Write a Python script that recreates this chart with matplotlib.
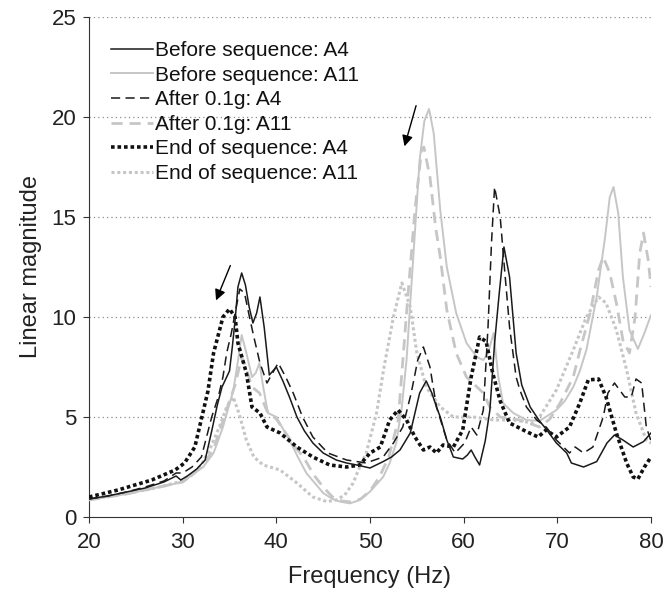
import matplotlib
matplotlib.use("Agg")
import matplotlib.pyplot as plt

plt.rcParams['font.family'] = ['Liberation Sans', 'DejaVu Sans']

# ---- Data ----
BA4_f = [20, 22, 24, 26, 28, 29.3, 29.8, 30.5, 31.5, 32.4, 33.1, 33.7, 34.2, 34.7, 35.0, 35.3, 35.6, 35.9, 36.3, 36.7,
         37.1, 37.5, 37.9, 38.25, 38.7, 39.25, 40.0, 40.7, 41.4, 42.2, 43.0, 43.9, 45.0, 46.4, 47.5, 48.6, 50.0, 51.4,
         52.3, 53.2, 54.3, 55.3, 56.0, 56.6, 57.1, 57.5, 58.2, 58.9, 59.9, 60.4, 60.8, 61.2, 61.7, 62.3, 62.8, 63.3,
         63.8, 64.3, 64.9, 65.6, 66.2, 67.1, 68.1, 68.8, 69.9, 71.0, 71.5, 72.8, 74.2, 75.3, 76.1, 77.0, 78.1, 79.2, 80.0]
BA4_v = [0.9, 1.05, 1.25, 1.45, 1.75, 2.05, 1.85, 2.05, 2.4, 2.85, 4.3, 5.6, 6.5, 7.0, 7.3, 8.5, 9.85, 11.5, 12.2, 11.6,
         10.5, 9.7, 10.2, 11.0, 9.5, 7.1, 7.5, 6.8, 6.0, 5.0, 4.3, 3.7, 3.2, 2.85, 2.7, 2.6, 2.45, 2.77,
         3.0, 3.35, 4.2, 6.2, 6.8, 6.2, 5.5, 5.0, 3.85, 3.0, 2.9, 3.1, 3.35, 3.0, 2.6, 3.8, 5.35, 8.7,
         11.2, 13.5, 12.0, 8.2, 6.6, 5.5, 4.8, 4.4, 3.7, 3.2, 2.7, 2.5, 2.77, 3.7, 4.1, 3.85, 3.5, 3.77, 4.2]

BA11_f = [20, 22, 24, 26, 28, 30, 31, 32.2, 33.3, 34.3, 34.9, 35.4, 35.9, 36.3, 36.8, 37.4, 37.8, 38.2, 38.6, 39.1,
          40.0, 40.6, 41.4, 42.3, 43.2, 44.1, 45.0, 46.0, 46.8, 47.85, 48.9, 50.0, 51.4, 52.1, 52.8, 53.4, 53.9, 54.6,
          55.3, 55.8, 56.3, 56.8, 57.5, 58.2, 59.2, 60.3, 61.4, 62.1, 62.6, 63.2, 63.7, 64.2, 65.3, 66.7, 68.1, 69.9,
          70.8, 71.7, 72.4, 73.1, 74.2, 75.1, 75.6, 76.0, 76.5, 77.0, 77.7, 78.6, 79.3, 80.0]
BA11_v = [0.85, 1.0, 1.15, 1.35, 1.55, 1.75, 2.1, 2.5, 3.2, 4.5, 5.5, 6.3, 7.8, 9.1, 8.2, 7.0, 7.2, 7.7, 6.5, 5.2,
          5.0, 4.5, 3.85, 3.0, 2.2, 1.7, 1.2, 0.9, 0.77, 0.68, 0.85, 1.27, 2.0, 2.7, 3.7, 5.5, 7.85, 12.85,
          17.85, 19.8, 20.4, 19.2, 15.35, 12.5, 10.2, 8.7, 8.0, 7.85, 8.2, 9.2, 7.0, 5.7, 5.2, 4.85, 4.8, 5.35,
          5.8, 6.5, 7.3, 8.35, 11.0, 14.0, 16.0, 16.5, 15.2, 12.0, 9.35, 8.4, 9.2, 10.1]

AA4_f = [20, 22, 24, 26, 28, 29.3, 30, 31, 32, 33.1, 33.8, 34.3, 34.7, 35.2, 35.6, 36.1, 36.6, 37.2, 37.7, 38.25,
         39.0, 39.6, 40.2, 41.0, 41.8, 42.8, 43.9, 45.5, 47.5, 49.6, 50.0, 51.4, 52.5, 53.5, 54.4, 55.1, 55.7, 56.4,
         57.1, 58.2, 59.1, 60.1, 60.8, 61.4, 62.1, 62.6, 62.97, 63.3, 63.9, 64.4, 64.9, 65.6, 66.0, 66.7, 67.8, 68.8,
         69.9, 71.3, 71.9, 72.8, 73.8, 74.9, 75.4, 76.1, 77.2, 77.9, 78.4, 79.0, 79.5, 80.0]
AA4_v = [0.9, 1.05, 1.25, 1.5, 1.8, 2.2, 2.2, 2.5, 3.0, 5.0, 6.0, 7.0, 8.2, 9.2, 10.2, 11.4, 11.2, 9.85, 8.8, 7.7,
         6.7, 7.2, 7.7, 7.0, 6.2, 5.0, 4.0, 3.2, 2.85, 2.7, 2.77, 3.0, 3.7, 4.5, 6.2, 7.85, 8.5, 7.5,
         5.5, 3.85, 3.2, 3.7, 4.5, 4.1, 5.35, 9.5, 13.7, 16.5, 15.0, 12.2, 9.5, 7.0, 6.35, 5.5, 4.85, 4.5,
         3.85, 3.2, 3.5, 3.2, 3.5, 5.0, 6.2, 6.7, 6.0, 6.0, 6.9, 6.7, 4.5, 3.8]

AA11_f = [20, 22, 24, 26, 28, 30, 31, 32.2, 33.3, 34.3, 35.0, 35.6, 36.3, 36.8, 37.4, 38.2, 39.0, 40.0, 41.0, 42.0,
          42.9, 44.0, 45.0, 46.0, 47.0, 48.0, 49.0, 50.0, 51.0, 52.0, 53.0, 53.9, 54.8, 55.5, 55.75, 56.4, 57.0, 57.5,
          58.2, 59.2, 60.3, 61.2, 62.1, 62.8, 63.9, 66.0, 68.1, 69.2, 70.3, 71.7, 72.4, 73.5, 74.4, 74.9, 75.6, 76.3,
          77.0, 77.7, 78.3, 78.8, 79.2, 79.7, 80.0]
AA11_v = [0.85, 1.0, 1.15, 1.35, 1.55, 1.75, 2.1, 2.6, 3.4, 4.8, 5.8, 6.6, 8.0, 7.4, 6.5, 6.2, 5.3, 4.9, 4.2, 3.5,
          3.0, 2.1, 1.5, 1.0, 0.8, 0.75, 0.9, 1.3, 2.0, 3.0, 4.8, 10.2, 15.35, 18.35, 18.5, 17.0, 14.5, 13.0,
          10.35, 8.2, 7.0, 6.6, 6.2, 5.5, 5.0, 4.85, 4.5, 4.9, 5.7, 7.0, 8.3, 10.2, 12.35, 13.0, 12.2, 10.7,
          8.85, 8.2, 10.0, 13.2, 14.2, 12.85, 11.5]

EA4_f = [20, 23.1, 26.7, 29.2, 30.2, 31.3, 32.0, 32.7, 33.3, 34.3, 35.0, 35.6, 35.9, 36.8, 37.4, 38.25, 39.0, 40.4,
         42.2, 43.9, 45.7, 47.5, 48.9, 50.0, 51.1, 52.1, 53.0, 53.9, 54.8, 55.7, 56.4, 57.1, 57.8, 58.9, 59.9, 60.8,
         61.7, 62.4, 63.1, 63.9, 64.9, 66.7, 67.95, 68.8, 69.9, 71.3, 72.4, 73.3, 74.4, 75.2, 76.3, 77.4, 78.1, 78.6,
         79.3, 80.0]
EA4_v = [1.0, 1.35, 1.85, 2.35, 2.7, 3.5, 4.9, 6.3, 8.2, 10.0, 10.4, 10.0, 8.7, 7.2, 5.5, 5.2, 4.5, 4.2,
         3.5, 3.0, 2.6, 2.5, 2.6, 3.2, 3.5, 4.85, 5.35, 4.85, 4.0, 3.35, 3.5, 3.2, 3.6, 3.5, 4.35, 7.0,
         9.0, 8.77, 7.2, 5.8, 4.7, 4.27, 4.0, 4.35, 4.0, 4.5, 5.7, 6.85, 6.9, 6.0, 4.2, 2.7, 2.0, 1.9,
         2.5, 3.0]

EA11_f = [20, 23, 26, 28, 30, 31, 32, 33, 34, 34.7, 35.4, 36.0, 36.8, 37.6, 38.6, 40.4, 42.2, 43.9, 45.4, 46.4,
          47.3, 48.2, 48.9, 49.6, 50.7, 51.5, 52.5, 53.4, 54.3, 55.0, 56.0, 57.5, 58.9, 61.0, 63.2, 65.3, 67.4, 68.1,
          69.9, 71.7, 73.1, 74.4, 75.2, 76.3, 77.4, 78.4, 79.5, 80.0]
EA11_v = [0.9, 1.1, 1.35, 1.55, 1.8, 2.1, 2.6, 3.5, 4.6, 5.5, 6.0, 5.2, 3.85, 3.0, 2.6, 2.35, 1.7, 1.0, 0.77, 0.85,
          1.1, 1.7, 2.5, 3.2, 5.2, 7.5, 10.0, 11.7, 10.5, 8.2, 6.5, 5.5, 5.0, 5.0, 4.85, 4.85, 4.7, 5.0,
          6.35, 8.35, 10.0, 11.0, 10.7, 9.35, 7.35, 5.2, 3.85, 3.7]

labels = ["Before sequence: A4", "Before sequence: A11", "After 0.1g: A4",
          "After 0.1g: A11", "End of sequence: A4", "End of sequence: A11"]

x_ticks = [20, 30, 40, 50, 60, 70, 80]
y_ticks = [0, 5, 10, 15, 20, 25]

# ---- Plot ----
fig = plt.figure(figsize=(6.64, 5.97), dpi=100)
ax = fig.add_axes([89 / 664, 80 / 597, (651 - 89) / 664, 500 / 597])

BLK = '#1a1a1a'
GRY = '#c6c6c6'

ax.plot(BA4_f, BA4_v, color=BLK, lw=1.1, label=labels[0], zorder=5)
ax.plot(BA11_f, BA11_v, color=GRY, lw=1.4, label=labels[1], zorder=3)
ax.plot(AA4_f, AA4_v, color=BLK, lw=1.1, dashes=(6, 3.5), label=labels[2], zorder=5)
ax.plot(AA11_f, AA11_v, color=GRY, lw=2.0, dashes=(4, 2.5), label=labels[3], zorder=3)
ax.plot(EA4_f, EA4_v, color='#111111', lw=2.6, dashes=(1, 0.8), label=labels[4], zorder=4)
ax.plot(EA11_f, EA11_v, color=GRY, lw=2.2, dashes=(1, 0.9), label=labels[5], zorder=2)

# arrows
ax.annotate("", xy=(33.45, 10.7), xytext=(35.2, 12.7),
            arrowprops=dict(arrowstyle="-|>", color='black', lw=1.0, mutation_scale=16))
ax.annotate("", xy=(53.6, 18.4), xytext=(55.0, 20.7),
            arrowprops=dict(arrowstyle="-|>", color='black', lw=1.0, mutation_scale=16))

ax.set_xlim(20, 80)
ax.set_ylim(0, 25)
ax.set_xticks(x_ticks)
ax.set_yticks(y_ticks)
ax.tick_params(axis='both', labelsize=16, direction='out', length=4, width=0.8, color='#333333',
               labelcolor='#222222')
ax.tick_params(axis='x', pad=7)
ax.tick_params(axis='y', pad=5)
ax.spines['top'].set_visible(False)
ax.spines['right'].set_visible(False)
ax.spines['left'].set_color('#333333')
ax.spines['bottom'].set_color('#333333')

for yv in y_ticks[1:]:
    ax.axhline(yv, color='#8a8a8a', lw=0.9, ls=(0, (1, 2.5)), zorder=0)

ax.set_xlabel("Frequency (Hz)", fontsize=17, labelpad=9, color='#222222')
ax.set_ylabel("Linear magnitude", fontsize=17, labelpad=7, color='#222222')

leg = ax.legend(loc='upper left', bbox_to_anchor=(0.017, 0.977), frameon=False, fontsize=15,
                handlelength=2.0, handletextpad=0.1, labelspacing=0.27, borderaxespad=0.2)
for t in leg.get_texts():
    t.set_color('#111111')

fig.savefig("out.png", dpi=100)
